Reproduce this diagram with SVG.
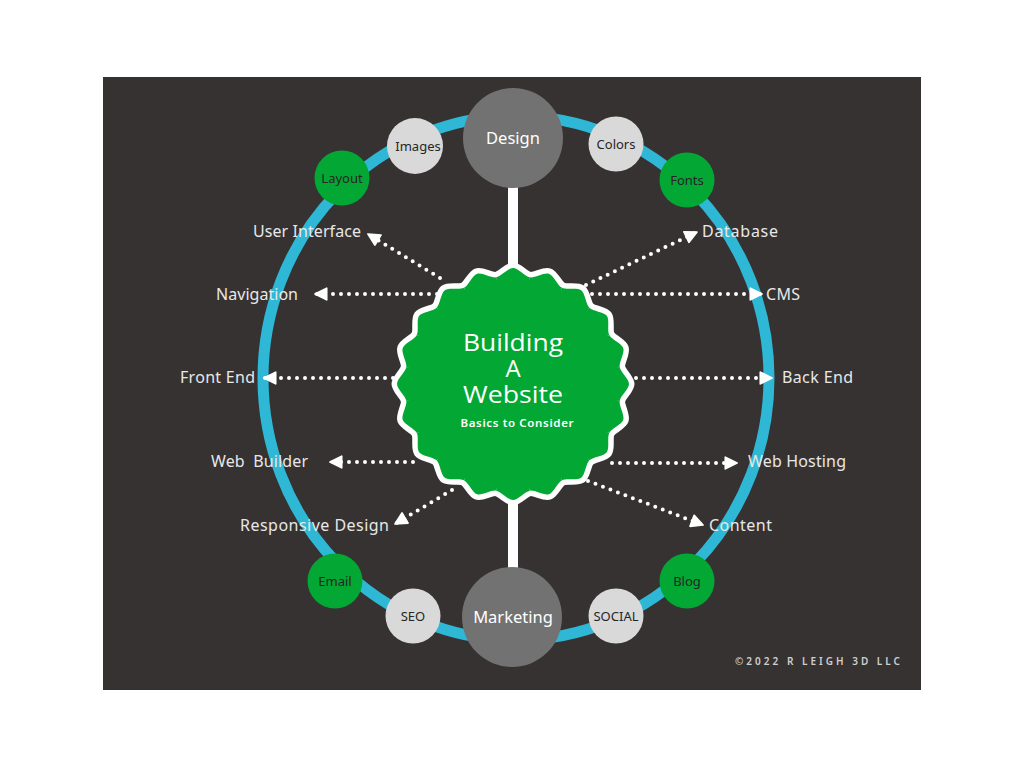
<svg xmlns="http://www.w3.org/2000/svg" xmlns:xlink="http://www.w3.org/1999/xlink" width="1024" height="768" viewBox="0 0 1024 768">
  <defs>
    <style>
      .lbl { font-family: "Noto Sans", "Open Sans", sans-serif; font-size: 16px; fill: #e8e8e8; }
      .nt { font-family: "Noto Sans", "Open Sans", sans-serif; font-size: 13px; fill: #262626; text-anchor: middle; }
      .big { font-family: "Noto Sans", "Open Sans", sans-serif; font-size: 16.5px; fill: #ffffff; text-anchor: middle; }
      .green { fill: #02a833; }
      .light { fill: #d9d9d9; }
      .gray { fill: #727272; }
      .dots { stroke: #ffffff; stroke-width: 4; stroke-linecap: round; stroke-dasharray: 0 8; fill: none; marker-end: url(#arr); }
      .title { font-family: "Open Sans", "Noto Sans", sans-serif; font-size: 24px; fill: #ffffff; text-anchor: middle; }
    </style>
    <marker id="arr" viewBox="0 0 12 12" refX="11" refY="6" markerWidth="14" markerHeight="14" markerUnits="userSpaceOnUse" orient="auto">
      <path d="M1,1 L11,6 L1,11 Z" fill="#ffffff" stroke="#ffffff" stroke-width="1.5" stroke-linejoin="round"/>
    </marker>
    <path id="wedge" d="M0,0 L-16.89,-106.67 C-11.95,-107.45 -5,-116 0,-116 C5,-116 11.95,-107.45 16.89,-106.67 Z" fill="#02a833"/>
    <path id="wave" d="M-16.89,-106.67 C-11.95,-107.45 -5,-116 0,-116 C5,-116 11.95,-107.45 16.89,-106.67" fill="none" stroke="#ffffff" stroke-width="11" stroke-linecap="round"/>
  </defs>

  <rect x="0" y="0" width="1024" height="768" fill="#ffffff"/>
  <rect x="103" y="77" width="818" height="613" fill="#363231"/>

  <ellipse id="ring" cx="516" cy="378" rx="253" ry="262" fill="none" stroke="#2fb8d5" stroke-width="11"/>

  <g id="bars">
    <rect x="508" y="180" width="10" height="92" fill="#ffffff"/>
    <rect x="508" y="494" width="10" height="80" fill="#ffffff"/>
  </g>

  <g id="connectors">
    <line class="dots" x1="440" y1="278" x2="368" y2="234"/>
    <line class="dots" x1="437" y1="294" x2="315" y2="294"/>
    <line class="dots" x1="393" y1="378" x2="264" y2="378"/>
    <line class="dots" x1="413" y1="462" x2="330" y2="462"/>
    <line class="dots" x1="452" y1="490" x2="395" y2="524"/>
    <line class="dots" x1="586" y1="285" x2="697" y2="232"/>
    <line class="dots" x1="592" y1="294" x2="762" y2="294"/>
    <line class="dots" x1="636" y1="378" x2="772" y2="378"/>
    <line class="dots" x1="612" y1="463" x2="737" y2="463"/>
    <line class="dots" x1="588" y1="481" x2="703" y2="525"/>
  </g>

  <g id="center">
    <g transform="translate(513,384)">
      <use xlink:href="#wave"/>
      <use xlink:href="#wave" transform="rotate(18)"/>
      <use xlink:href="#wave" transform="rotate(36)"/>
      <use xlink:href="#wave" transform="rotate(54)"/>
      <use xlink:href="#wave" transform="rotate(72)"/>
      <use xlink:href="#wave" transform="rotate(90)"/>
      <use xlink:href="#wave" transform="rotate(108)"/>
      <use xlink:href="#wave" transform="rotate(126)"/>
      <use xlink:href="#wave" transform="rotate(144)"/>
      <use xlink:href="#wave" transform="rotate(162)"/>
      <use xlink:href="#wave" transform="rotate(180)"/>
      <use xlink:href="#wave" transform="rotate(198)"/>
      <use xlink:href="#wave" transform="rotate(216)"/>
      <use xlink:href="#wave" transform="rotate(234)"/>
      <use xlink:href="#wave" transform="rotate(252)"/>
      <use xlink:href="#wave" transform="rotate(270)"/>
      <use xlink:href="#wave" transform="rotate(288)"/>
      <use xlink:href="#wave" transform="rotate(306)"/>
      <use xlink:href="#wave" transform="rotate(324)"/>
      <use xlink:href="#wave" transform="rotate(342)"/>
      <circle r="106" fill="#02a833"/>
      <use xlink:href="#wedge"/>
      <use xlink:href="#wedge" transform="rotate(18)"/>
      <use xlink:href="#wedge" transform="rotate(36)"/>
      <use xlink:href="#wedge" transform="rotate(54)"/>
      <use xlink:href="#wedge" transform="rotate(72)"/>
      <use xlink:href="#wedge" transform="rotate(90)"/>
      <use xlink:href="#wedge" transform="rotate(108)"/>
      <use xlink:href="#wedge" transform="rotate(126)"/>
      <use xlink:href="#wedge" transform="rotate(144)"/>
      <use xlink:href="#wedge" transform="rotate(162)"/>
      <use xlink:href="#wedge" transform="rotate(180)"/>
      <use xlink:href="#wedge" transform="rotate(198)"/>
      <use xlink:href="#wedge" transform="rotate(216)"/>
      <use xlink:href="#wedge" transform="rotate(234)"/>
      <use xlink:href="#wedge" transform="rotate(252)"/>
      <use xlink:href="#wedge" transform="rotate(270)"/>
      <use xlink:href="#wedge" transform="rotate(288)"/>
      <use xlink:href="#wedge" transform="rotate(306)"/>
      <use xlink:href="#wedge" transform="rotate(324)"/>
      <use xlink:href="#wedge" transform="rotate(342)"/>
      <circle r="100" fill="#02a833"/>
    </g>
    <text class="title" x="513" y="351" textLength="100" lengthAdjust="spacingAndGlyphs">Building</text>
    <text class="title" x="513" y="377">A</text>
    <text class="title" x="513" y="403" textLength="100" lengthAdjust="spacingAndGlyphs">Website</text>
    <text x="517" y="427" font-family="'Noto Sans', sans-serif" font-size="11.5" font-weight="600" fill="#ffffff" text-anchor="middle" textLength="113" lengthAdjust="spacing">Basics to Consider</text>
  </g>

  <g id="node-design"><circle class="gray" cx="513" cy="138" r="50"/><text class="big" x="513" y="144">Design</text></g>
  <g id="node-images"><circle class="light" cx="415" cy="146" r="28"/><text class="nt" x="418" y="151">Images</text></g>
  <g id="node-colors"><circle class="light" cx="616" cy="144" r="27.5"/><text class="nt" x="616" y="149">Colors</text></g>
  <g id="node-layout"><circle class="green" cx="342" cy="178" r="27.5"/><text class="nt" x="342" y="183">Layout</text></g>
  <g id="node-fonts"><circle class="green" cx="687" cy="180" r="27.5"/><text class="nt" x="687" y="185">Fonts</text></g>

  <g id="node-marketing"><circle class="gray" cx="512" cy="617" r="50"/><text class="big" x="513" y="623">Marketing</text></g>
  <g id="node-seo"><circle class="light" cx="413" cy="616" r="27.5"/><text class="nt" x="413" y="621">SEO</text></g>
  <g id="node-social"><circle class="light" cx="616" cy="616" r="27.5"/><text class="nt" x="616" y="621">SOCIAL</text></g>
  <g id="node-email"><circle class="green" cx="335" cy="581" r="27.5"/><text class="nt" x="335" y="586">Email</text></g>
  <g id="node-blog"><circle class="green" cx="687" cy="581" r="27.5"/><text class="nt" x="687" y="586">Blog</text></g>

  <g id="labels">
    <text class="lbl" x="253" y="237" textLength="108" lengthAdjust="spacing">User Interface</text>
    <text class="lbl" x="216" y="300" textLength="82" lengthAdjust="spacing">Navigation</text>
    <text class="lbl" x="180" y="383" textLength="75" lengthAdjust="spacing">Front End</text>
    <text class="lbl" x="211" y="467" xml:space="preserve" textLength="97" lengthAdjust="spacing">Web  Builder</text>
    <text class="lbl" x="240" y="531" textLength="149" lengthAdjust="spacing">Responsive Design</text>
    <text class="lbl" x="702" y="237" textLength="76" lengthAdjust="spacing">Database</text>
    <text class="lbl" x="766" y="300" textLength="34" lengthAdjust="spacing">CMS</text>
    <text class="lbl" x="782" y="383" textLength="71" lengthAdjust="spacing">Back End</text>
    <text class="lbl" x="748" y="467" textLength="98" lengthAdjust="spacing">Web Hosting</text>
    <text class="lbl" x="709" y="531" textLength="63" lengthAdjust="spacing">Content</text>
  </g>

  <text id="copyright" x="735" y="665" font-family="'Noto Sans', sans-serif" font-size="10" font-weight="600" fill="#cfcfcf" textLength="165" lengthAdjust="spacing">©2022 R LEIGH 3D LLC</text>
</svg>
